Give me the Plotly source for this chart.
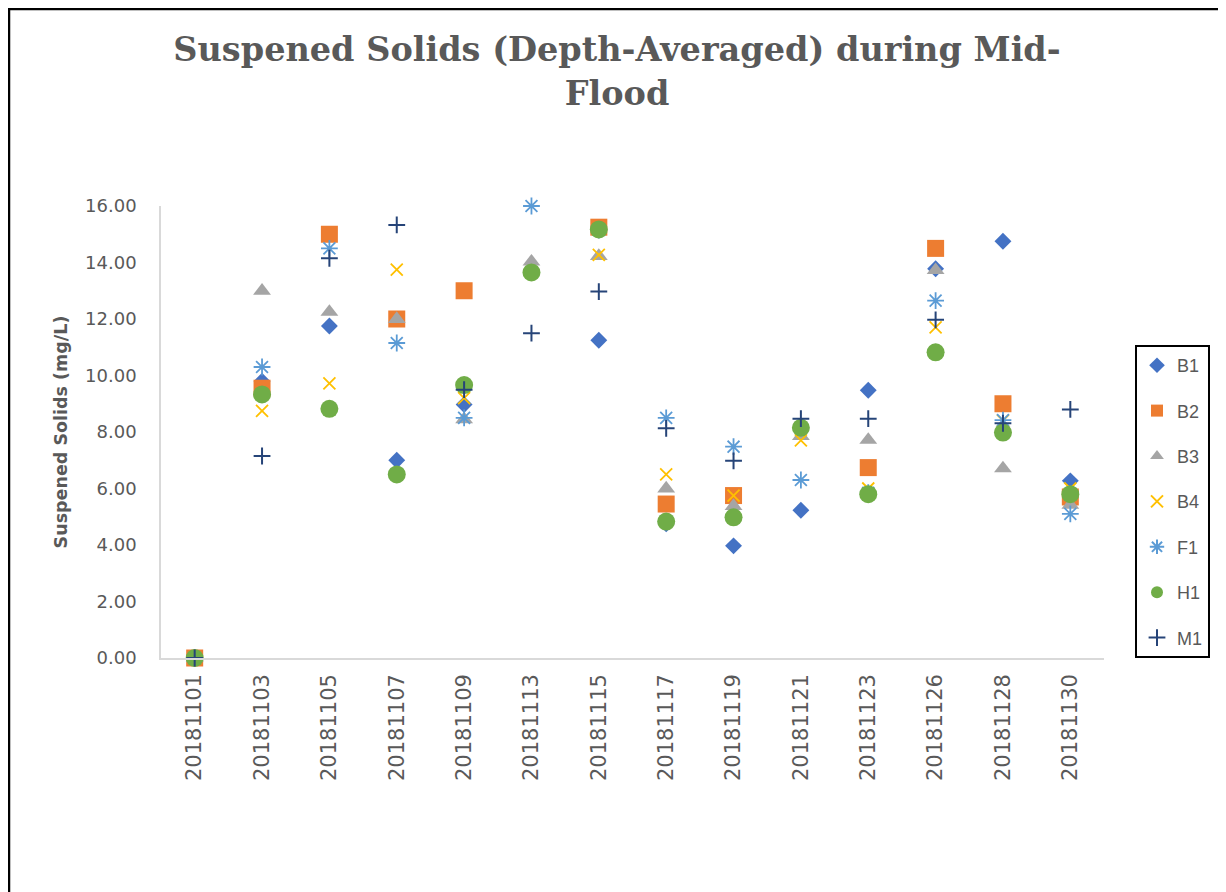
import plotly.graph_objects as go

categories = ['20181101', '20181103', '20181105', '20181107', '20181109', '20181113', '20181115',
              '20181117', '20181119', '20181121', '20181123', '20181126', '20181128', '20181130']

B1 = [0.00, 9.80, 11.75, 7.00, 8.97, None, 11.25, 4.75, 3.97, 5.23, 9.48, 13.78, 14.75, 6.27]
B2 = [0.00, 9.55, 15.00, 12.00, 13.00, None, 15.25, 5.45, 5.75, None, 6.74, 14.50, 9.00, 5.70]
B3 = [0.00, 13.00, 12.25, 12.00, 8.45, 14.03, 14.23, 6.00, 5.38, 7.85, 7.72, 13.73, 6.71, 5.42]
B4 = [0.00, 8.75, 9.72, 13.75, 9.20, None, 14.27, 6.50, 5.75, 7.70, 6.00, 11.70, 8.40, 6.00]
F1 = [0.00, 10.30, 14.50, 11.15, 8.50, 16.00, 15.15, 8.50, 7.48, 6.30, 5.85, 12.65, 8.42, 5.10]
H1 = [0.00, 9.33, 8.82, 6.50, 9.66, 13.65, 15.17, 4.83, 4.98, 8.15, 5.80, 10.82, 7.98, 5.80]
M1 = [0.00, 7.15, 14.15, 15.33, 9.50, 11.50, 12.97, 8.13, 6.98, 8.47, 8.47, 11.97, 8.31, 8.80]

y_ticks = [0, 2, 4, 6, 8, 10, 12, 14, 16]

series = [
    ("B1", B1, "diamond", 13, "#4472C4", 0),
    ("B2", B2, "square", 17, "#ED7D31", 0),
    ("B3", B3, "triangle-up", 15.5, "#A5A5A5", 0),
    ("B4", B4, "x-thin-open", 12, "#FFC000", 1.8),
    ("F1", F1, "asterisk-open", 14, "#5B9BD5", 1.8),
    ("H1", H1, "circle", 18, "#70AD47", 0),
    ("M1", M1, "cross-thin-open", 12, "#264478", 2),
]

fig = go.Figure()
for name, vals, sym, size, color, lw in series:
    marker = dict(symbol=sym, size=size, color=color)
    if lw:
        marker["line"] = dict(color=color, width=lw)
    else:
        marker["line"] = dict(width=0)
    fig.add_trace(go.Scatter(
        x=categories, y=vals, mode="markers", name=name, marker=marker,
        cliponaxis=False, legendgroup=name,
    ))

# page is rendered with an 8px body margin: work in figure coordinates = page - 8
OFF = 8
W, H = 1226 - OFF, 892 - OFF
L = 161 - OFF
T = 206 - OFF
R = W - (1104 - OFF)
B = H - (658 - OFF)
pw, ph = W - L - R, H - T - B

def px_x(p):
    return (p - OFF - L) / pw

def px_y(p):
    return (H - B - (p - OFF)) / ph

fig.add_shape(type="rect", xref="paper", yref="paper",
              x0=px_x(9), x1=px_x(1222), y0=px_y(910), y1=px_y(9),
              line=dict(color="black", width=2.5), fillcolor="rgba(0,0,0,0)", layer="above")

fig.update_layout(
    width=W, height=H,
    margin=dict(l=L, r=R, t=T, b=B),
    paper_bgcolor="white", plot_bgcolor="white",
    title=dict(
        text="Suspened Solids (Depth-Averaged) during Mid-<br>Flood",
        x=0.5, xanchor="center", xref="container",
        y=0.94, yanchor="top", yref="container",
        font=dict(family="DejaVu Serif", size=33.5, color="#595959", weight="bold"),
    ),
    xaxis=dict(
        type="category", categoryorder="array", categoryarray=categories,
        range=[-0.5, len(categories) - 0.5],
        showline=True, linecolor="#D9D9D9", linewidth=1.5,
        showgrid=False, zeroline=False, ticks="",
        tickangle=-90, ticklabelstandoff=6,
        tickfont=dict(family="DejaVu Sans", size=21, color="#595959"),
    ),
    yaxis=dict(
        range=[0, 16], tickvals=y_ticks, tickformat=".2f",
        showline=True, linecolor="#D9D9D9", linewidth=1.5,
        showgrid=False, zeroline=False, ticks="",
        ticklabelstandoff=19,
        tickfont=dict(family="DejaVu Sans", size=18, color="#595959"),
        title=dict(text="Suspened Solids (mg/L)", standoff=13,
                   font=dict(family="DejaVu Sans", size=17.5, color="#595959", weight="bold")),
    ),
    legend=dict(
        x=px_x(1135), xanchor="left", y=px_y(345), yanchor="top",
        bordercolor="black", borderwidth=2, bgcolor="white",
        font=dict(family="Liberation Sans", size=18, color="#595959"),
        tracegroupgap=19, itemsizing="constant",
    ),
    showlegend=True,
)

fig.write_html("out.html")
